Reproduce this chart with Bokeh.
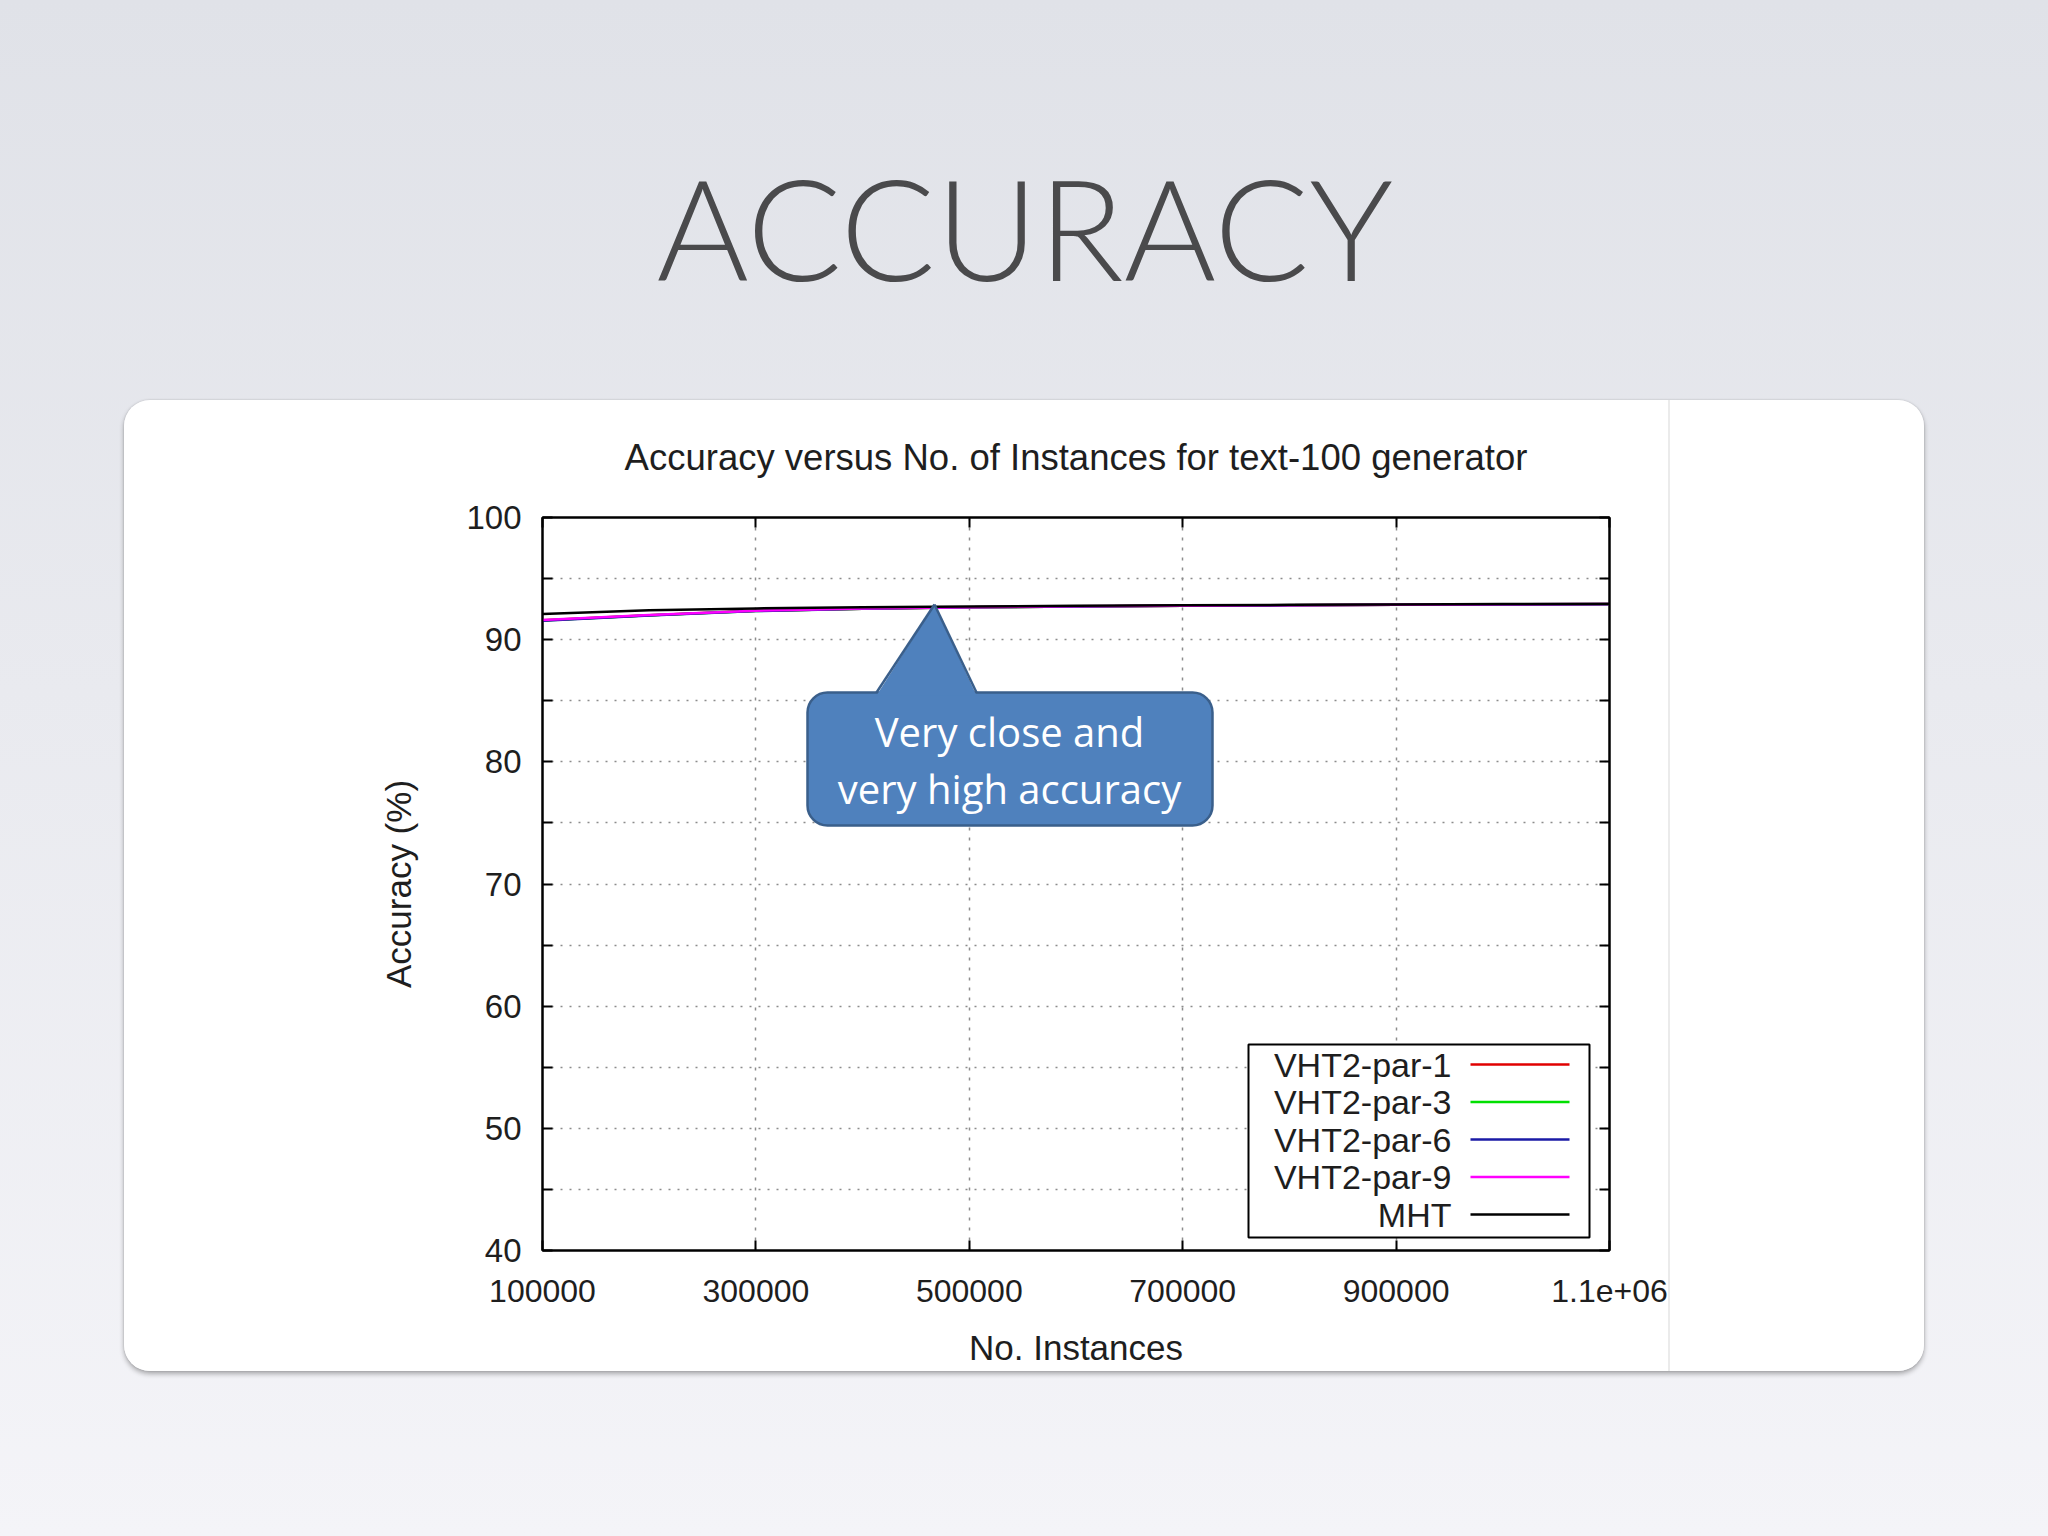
from bokeh.plotting import figure
from bokeh.models import (FixedTicker, LinearAxis, BoxAnnotation, PolyAnnotation, Label, Arrow,
                          Title, InlineStyleSheet)
from bokeh.embed import file_html
from bokeh.resources import INLINE

# ---------------- data ----------------
x_instances = [100000, 200000, 300000, 400000, 500000, 600000,
               700000, 800000, 900000, 1000000, 1100000]
acc_vht2_par_1 = [91.58, 92.00, 92.36, 92.54, 92.65, 92.72, 92.77, 92.81, 92.85, 92.88, 92.90]
acc_vht2_par_3 = [91.57, 92.00, 92.35, 92.54, 92.65, 92.72, 92.77, 92.81, 92.85, 92.88, 92.90]
acc_vht2_par_6 = [91.55, 91.98, 92.34, 92.53, 92.65, 92.72, 92.77, 92.81, 92.85, 92.88, 92.90]
acc_vht2_par_9 = [91.60, 92.02, 92.37, 92.55, 92.66, 92.73, 92.78, 92.82, 92.86, 92.89, 92.91]
acc_mht        = [92.10, 92.40, 92.56, 92.66, 92.72, 92.77, 92.81, 92.85, 92.88, 92.91, 92.93]

series_names = ["VHT2-par-1", "VHT2-par-3", "VHT2-par-6", "VHT2-par-9", "MHT"]
series_values = [acc_vht2_par_1, acc_vht2_par_3, acc_vht2_par_6, acc_vht2_par_9, acc_mht]
series_colors = ["#e00000", "#00e000", "#1a1aa6", "#ff00ff", "#000000"]

x_tick_values = [100000, 300000, 500000, 700000, 900000, 1100000]
x_tick_labels = ["100000", "300000", "500000", "700000", "900000", "1.1e+06"]
y_tick_values = [40, 50, 60, 70, 80, 90, 100]
y_minor_values = [45, 55, 65, 75, 85, 95]

slide_title = "ACCURACY"
chart_title = "Accuracy versus No. of Instances for text-100 generator"
x_label = "No. Instances"
y_label = "Accuracy (%)"
callout_lines = ["Very close and", "very high accuracy"]

# ---------------- layout helpers (page pixels -> frame screen units) ----------------
FRAME_L, FRAME_T, FRAME_R, FRAME_B = 542, 517, 1609, 1250
W, H = 2048, 1536
def sx(px):
    return px - FRAME_L
def sy(py):
    return FRAME_B - py

TXT = "#1e1e1e"
GNU_FONT = "Liberation Sans"

p = figure(width=W, height=H, x_range=(100000, 1100000), y_range=(40, 100), title=None,
           output_backend="svg", toolbar_location=None,
           min_border_left=FRAME_L, min_border_right=W - FRAME_R,
           min_border_top=FRAME_T, min_border_bottom=H - FRAME_B,
           background_fill_color="white", border_fill_alpha=0,
           outline_line_color="black", outline_line_width=2)

# slide background (gradient) and white rounded card with shadow, as CSS behind the canvas
p.styles = {"background": "linear-gradient(to bottom, #e0e2e8 0%, #e9eaef 45%, #f4f4f8 100%)",
            "position": "relative", "z-index": "0"}
p.stylesheets = [InlineStyleSheet(css="""
:host::before {
  content: "";
  position: absolute;
  left: 124px; top: 400px; width: 1800px; height: 971px;
  border-radius: 26px;
  background: linear-gradient(to right, #ffffff 1544px, #ebebeb 1544px, #ebebeb 1546px, #ffffff 1546px);
  box-shadow: 0 3px 5px rgba(0,0,0,0.30), 0 0 2px rgba(0,0,0,0.18);
  z-index: -1;
}
""")]

# axes
p.xaxis.ticker = FixedTicker(ticks=x_tick_values)
p.xaxis.major_label_overrides = dict(zip(x_tick_values, x_tick_labels))
p.yaxis.ticker = FixedTicker(ticks=y_tick_values, minor_ticks=y_minor_values)
for ax in (p.xaxis[0], p.yaxis[0]):
    ax.major_tick_in = 10
    ax.major_tick_out = 0
    ax.minor_tick_in = 10
    ax.minor_tick_out = 0
    ax.axis_line_width = 2
    ax.axis_line_color = "black"
    ax.major_tick_line_width = 2
    ax.minor_tick_line_width = 2
    ax.major_label_text_font = GNU_FONT
    ax.major_label_text_color = TXT
    ax.axis_label_text_font = GNU_FONT
    ax.axis_label_text_font_style = "normal"
    ax.axis_label_text_font_size = "35px"
    ax.axis_label_text_color = TXT
p.xaxis.minor_tick_in = 0
p.xaxis.major_label_text_font_size = "32px"
p.yaxis.major_label_text_font_size = "33px"
p.xaxis.major_label_standoff = 29
p.yaxis.major_label_standoff = 21
p.xaxis.axis_label = x_label
p.yaxis.axis_label = y_label
p.xaxis.axis_label_standoff = 23
p.yaxis.axis_label_standoff = 45

# mirrored tick axes (gnuplot style)
top_ax = LinearAxis(ticker=FixedTicker(ticks=x_tick_values), major_tick_in=10, major_tick_out=0,
                    minor_tick_in=0, minor_tick_out=0, axis_line_width=2, major_tick_line_width=2,
                    major_label_text_color=None, major_label_text_font_size="0px", major_label_standoff=0)
right_ax = LinearAxis(ticker=FixedTicker(ticks=y_tick_values, minor_ticks=y_minor_values),
                      major_tick_in=10, major_tick_out=0, minor_tick_in=10, minor_tick_out=0,
                      axis_line_width=2, major_tick_line_width=2, minor_tick_line_width=2,
                      major_label_text_color=None, major_label_text_font_size="0px", major_label_standoff=0)
p.add_layout(top_ax, "above")
p.add_layout(right_ax, "right")

# titles (stacked outward from the frame)
p.add_layout(Title(text=chart_title, align="center", text_font=GNU_FONT, text_font_size="36.5px",
                   text_font_style="normal", text_color=TXT, standoff=79), "above")
p.add_layout(Title(text=slide_title, align="left", offset=114, text_font="Lato Light", text_font_size="141px",
                   text_font_style="normal", text_color="#4a4a4c", standoff=170), "above")

# grid
p.xgrid.ticker = FixedTicker(ticks=x_tick_values)
p.xgrid.grid_line_color = "#8c8c8c"
p.xgrid.grid_line_dash = "3 7"
p.xgrid.grid_line_width = 1.5
p.ygrid.ticker = FixedTicker(ticks=y_tick_values, minor_ticks=y_minor_values)
p.ygrid.grid_line_color = "#8c8c8c"
p.ygrid.grid_line_dash = "2 7"
p.ygrid.grid_line_width = 1.5
p.ygrid.minor_grid_line_color = "#8c8c8c"
p.ygrid.minor_grid_line_dash = "2 7"
p.ygrid.minor_grid_line_width = 1.5

# data lines
for name, vals, col in zip(series_names, series_values, series_colors):
    p.line(x_instances, vals, line_color=col, line_width=2.5)

# callout
CALL_FILL, CALL_LINE = "#4f81bd", "#3a5f8b"
p.add_layout(BoxAnnotation(left=sx(807), right=sx(1212), top=sy(692), bottom=sy(825),
                           left_units="screen", right_units="screen", top_units="screen", bottom_units="screen",
                           fill_color=CALL_FILL, fill_alpha=1, line_color=CALL_LINE, line_alpha=1,
                           line_width=2.5, border_radius=20, level="overlay"))
p.add_layout(PolyAnnotation(xs=[sx(876), sx(934), sx(976)], ys=[sy(695), sy(604), sy(695)],
                            xs_units="screen", ys_units="screen",
                            fill_color=CALL_FILL, fill_alpha=1, line_alpha=0, level="overlay"))
for bx in (876, 976):
    p.add_layout(Arrow(x_start=sx(bx), y_start=sy(692), x_end=sx(934), y_end=sy(604),
                       start_units="screen", end_units="screen", end=None,
                       line_color=CALL_LINE, line_width=2.5, level="overlay"))
for txt, base in zip(callout_lines, (731, 788)):
    p.add_layout(Label(x=sx(1009), y=sy(base), x_units="screen", y_units="screen", text=txt,
                       text_align="center", text_baseline="alphabetic", text_font="Open Sans",
                       text_font_size="40px", text_color="white", level="overlay"))

# gnuplot-style legend (labels right-aligned, samples on the right)
p.add_layout(BoxAnnotation(left=sx(1248), right=sx(1589), top=sy(1044), bottom=sy(1237),
                           left_units="screen", right_units="screen", top_units="screen", bottom_units="screen",
                           fill_color="white", fill_alpha=1, line_color="black", line_alpha=1, line_width=2))
row_y = [1064, 1101.5, 1139, 1176.5, 1214]
for name, col, ry in zip(series_names, series_colors, row_y):
    p.add_layout(Label(x=sx(1451), y=sy(ry), x_units="screen", y_units="screen", text=name,
                       text_align="right", text_baseline="middle", text_font=GNU_FONT,
                       text_font_size="34px", text_color=TXT))
    p.add_layout(Arrow(x_start=sx(1470), y_start=sy(ry), x_end=sx(1569), y_end=sy(ry),
                       start_units="screen", end_units="screen", end=None,
                       line_color=col, line_width=2.5))

open("out.html", "w").write(file_html(p, INLINE))
